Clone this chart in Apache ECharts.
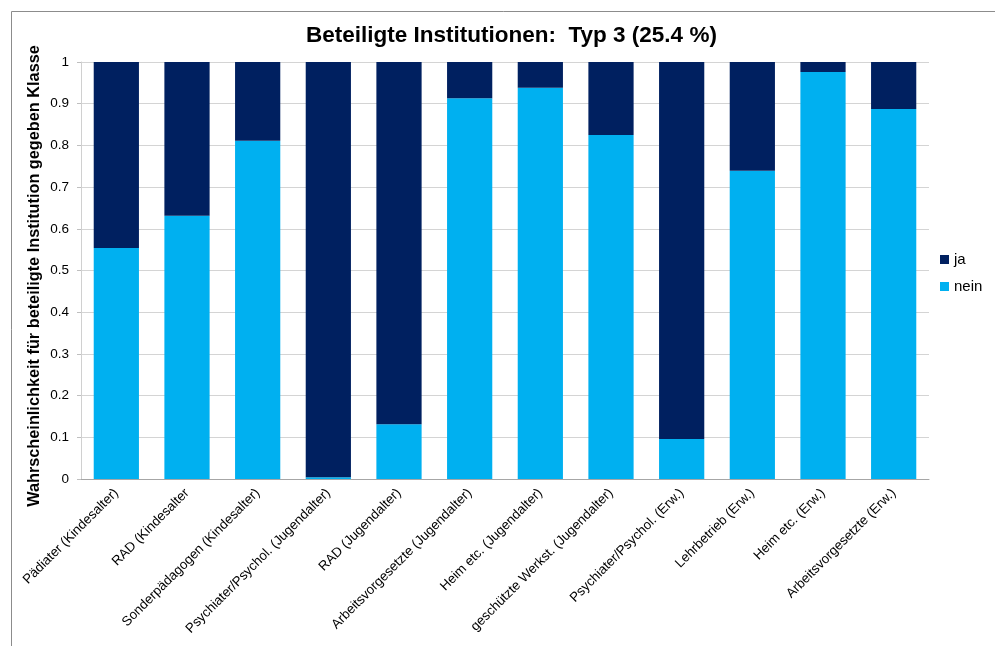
<!DOCTYPE html>
<html>
<head>
<meta charset="utf-8">
<script src="https://cdn.jsdelivr.net/npm/echarts@6/dist/echarts.min.js"></script>
<style>
html,body{margin:0;padding:0;background:#fff;}
#c{width:995px;height:646px;}
</style>
</head>
<body>
<div id="c"></div>
<script>
const categories = [
  'Pädiater (Kindesalter)',
  'RAD (Kindesalter',
  'Sonderpädagogen (Kindesalter)',
  'Psychiater/Psychol. (Jugendalter)',
  'RAD (Jugendalter)',
  'Arbeitsvorgesetzte (Jugendalter)',
  'Heim etc. (Jugendalter)',
  'geschützte Werkst. (Jugendalter)',
  'Psychiater/Psychol. (Erw.)',
  'Lehrbetrieb (Erw.)',
  'Heim etc. (Erw.)',
  'Arbeitsvorgesetzte (Erw.)'
];
const neinValues = [0.554, 0.631, 0.811, 0.004, 0.131, 0.913, 0.938, 0.825, 0.096, 0.739, 0.976, 0.887];
const jaValues   = [0.446, 0.369, 0.189, 0.996, 0.869, 0.087, 0.062, 0.175, 0.904, 0.261, 0.024, 0.113];
const yTicks = [0, 0.1, 0.2, 0.3, 0.4, 0.5, 0.6, 0.7, 0.8, 0.9, 1];
const yAxisTitle = 'Wahrscheinlichkeit für beteiligte Institution gegeben Klasse';

const FONT = 'Liberation Sans, Arial, sans-serif';
const chart = echarts.init(document.getElementById('c'), null, {renderer: 'canvas'});
chart.setOption({
  backgroundColor: '#fff',
  animation: false,
  graphic: [{
    type: 'rect', left: 9, top: 9, shape: {width: 1100, height: 1100},
    style: {fill: 'none', stroke: '#8c8c8c', lineWidth: 1}, silent: true, z: -10
  }, {
    type: 'text', x: 35, y: 276, rotation: Math.PI / 2,
    style: {text: yAxisTitle, align: 'center', verticalAlign: 'middle',
            font: 'bold 16.3px Liberation Sans, Arial, sans-serif', fill: '#000'}
  }],
  title: {
    text: 'Beteiligte Institutionen:  Typ 3 (25.4 %)',
    left: 301, top: 19,
    textStyle: {fontFamily: FONT, fontSize: 22.5, fontWeight: 'bold', color: '#000'}
  },
  legend: {
    orient: 'vertical', left: 935, top: 247, itemWidth: 9, itemHeight: 9, itemGap: 12,
    icon: 'rect',
    textStyle: {fontFamily: FONT, fontSize: 15, color: '#000'},
    data: ['ja', 'nein']
  },
  grid: {left: 81, right: 66, top: 62, bottom: 167, containLabel: false},
  xAxis: {
    type: 'category', data: categories,
    axisLine: {lineStyle: {color: '#a6a6a6'}},
    axisTick: {show: false},
    axisLabel: {rotate: 45, interval: 0, fontFamily: FONT, fontSize: 13.3, color: '#000', margin: 12}
  },
  yAxis: {
    type: 'value', min: 0, max: 1, interval: 0.1,
    axisLine: {show: true, lineStyle: {color: '#d0d0d0'}},
    axisTick: {show: true, length: 4, lineStyle: {color: '#bfbfbf'}},
    splitLine: {lineStyle: {color: '#d4d4d4'}},
    axisLabel: {
      fontFamily: FONT, fontSize: 13.5, color: '#000', margin: 12,
      formatter: function (v) { return yTicks.indexOf(Math.round(v*10)/10) >= 0 ? String(Math.round(v*10)/10) : ''; }
    }
  },
  series: [
    {name: 'nein', type: 'bar', stack: 's', data: neinValues, barCategoryGap: '36%',
     itemStyle: {color: '#00b0f0'}},
    {name: 'ja', type: 'bar', stack: 's', data: jaValues, barCategoryGap: '36%',
     itemStyle: {color: '#002060'}}
  ]
});
</script>
</body>
</html>
